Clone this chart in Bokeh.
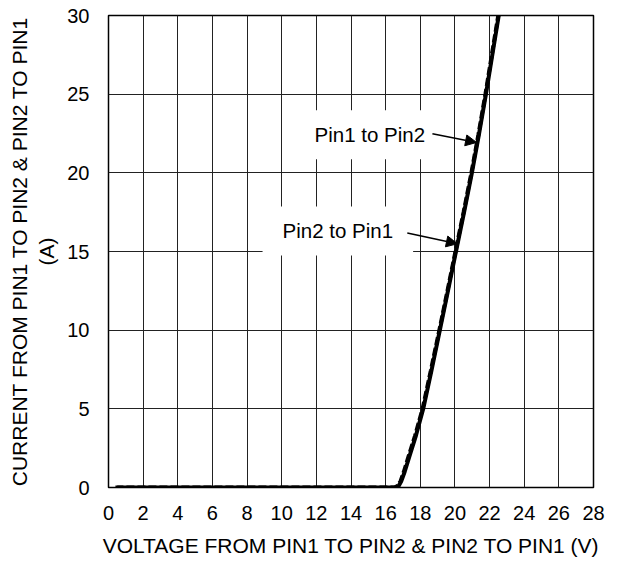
from bokeh.plotting import figure
from bokeh.models import Range1d, FixedTicker, Label, Arrow, NormalHead
from bokeh.embed import file_html
from bokeh.resources import INLINE

# Data
v_p2p1 = [0.4, 2, 4, 6, 8, 10, 12, 14, 16, 16.5, 16.7, 16.86, 17.05, 17.3, 17.7, 18.13,
          18.6, 19.1, 19.55, 20.03, 20.5, 20.95, 21.35, 21.76, 22.1, 22.5]
i_p2p1 = [0, 0, 0, 0, 0, 0, 0, 0, 0, 0, 0.1, 0.4, 1.0, 1.9, 3.3, 5.0,
          7.4, 10.0, 12.4, 15.0, 17.5, 20.0, 22.4, 25.0, 27.3, 30.0]
v_p1p2 = [0.5, 2, 4, 6, 8, 10, 12, 14, 16, 16.55, 16.75, 16.9, 17.1, 17.35, 17.75, 18.17,
          18.64, 19.13, 19.58, 20.06, 20.53, 20.98, 21.38, 21.79, 22.13, 22.53]
i_p1p2 = [0, 0, 0, 0, 0, 0, 0, 0, 0, 0, 0.1, 0.4, 1.0, 1.9, 3.3, 5.0,
          7.4, 10.0, 12.4, 15.0, 17.5, 20.0, 22.4, 25.0, 27.3, 30.0]

x_ticks = [0, 2, 4, 6, 8, 10, 12, 14, 16, 18, 20, 22, 24, 26, 28]
y_ticks = [0, 5, 10, 15, 20, 25, 30]

FONT = "Liberation Sans"

p = figure(width=612, height=560, output_backend="svg", toolbar_location=None,
           x_range=Range1d(0, 28), y_range=Range1d(0, 30),
           min_border_left=108, min_border_right=19, min_border_top=15, min_border_bottom=73)

p.background_fill_color = "white"
p.border_fill_color = "white"
p.outline_line_color = "black"
p.outline_line_width = 1.5

for ax in (p.xaxis[0], p.yaxis[0]):
    ax.axis_line_color = None
    ax.major_tick_line_color = None
    ax.minor_tick_line_color = None
    ax.major_tick_in = 0
    ax.major_tick_out = 0
    ax.major_label_text_font = FONT
    ax.major_label_text_font_size = "20px"
    ax.major_label_text_color = "black"
    ax.axis_label_text_font = FONT
    ax.axis_label_text_font_size = "21px"
    ax.axis_label_text_font_style = "normal"
    ax.axis_label_text_color = "black"

p.xaxis.ticker = FixedTicker(ticks=x_ticks)
p.yaxis.ticker = FixedTicker(ticks=y_ticks)
p.xaxis.major_label_standoff = 18
p.yaxis.major_label_standoff = 19
p.xaxis.axis_label_standoff = 11
p.yaxis.axis_label_standoff = 6
p.xaxis.axis_label = "VOLTAGE FROM PIN1 TO PIN2 & PIN2 TO PIN1 (V)"
p.yaxis.axis_label = "CURRENT FROM PIN1 TO PIN2 & PIN2 TO PIN1\n(A)"

p.xgrid.grid_line_color = "#222222"
p.ygrid.grid_line_color = "#222222"
p.xgrid.grid_line_width = 1
p.ygrid.grid_line_width = 1
p.xgrid.ticker = FixedTicker(ticks=x_ticks)
p.ygrid.ticker = FixedTicker(ticks=y_ticks)

p.line(v_p1p2, i_p1p2, line_color="black", line_width=4)
p.line(v_p2p1, i_p2p1, line_color="black", line_width=4, line_dash="8 3")

lab1 = Label(x=15.09, y=22.42, text="Pin1 to Pin2", text_align="center", text_baseline="middle",
             text_font=FONT, text_font_size="20.5px", text_color="black",
             background_fill_color="white", padding=(17, 13))
lab2 = Label(x=13.24, y=16.31, text="Pin2 to Pin1", text_align="center", text_baseline="middle",
             text_font=FONT, text_font_size="20.5px", text_color="black",
             background_fill_color="white", padding=(20, 13))
p.add_layout(lab1)
p.add_layout(lab2)

p.add_layout(Arrow(x_start=18.70, y_start=22.48, x_end=21.25, y_end=21.93,
                   line_color="black", line_width=1.5,
                   end=NormalHead(size=11, fill_color="black", line_color="black")))
p.add_layout(Arrow(x_start=17.25, y_start=16.18, x_end=20.14, y_end=15.49,
                   line_color="black", line_width=1.5,
                   end=NormalHead(size=11, fill_color="black", line_color="black")))

open("out.html", "w").write(file_html(p, INLINE))
